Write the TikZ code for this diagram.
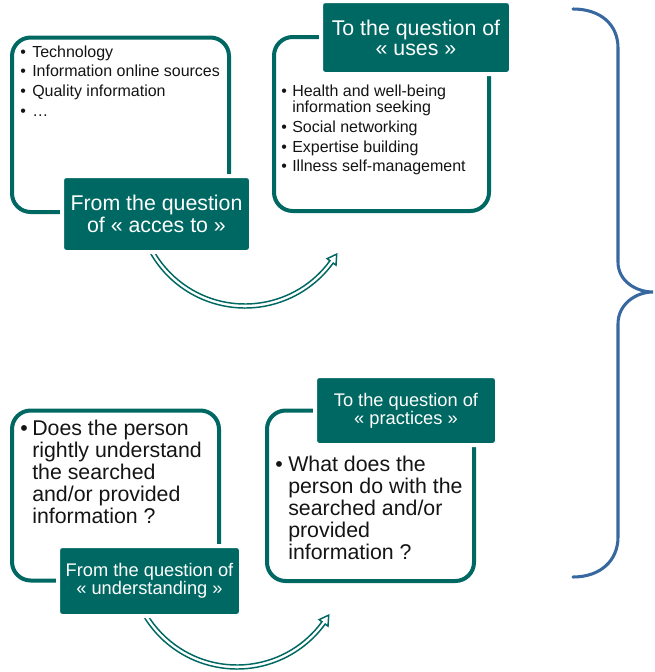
\documentclass[tikz,border=0pt]{standalone}
\usepackage{fontspec}
\setmainfont{Liberation Sans}
\usetikzlibrary{fit}
\definecolor{tealA}{RGB}{0,104,98}
\definecolor{braceblue}{RGB}{56,104,160}
\definecolor{txt}{RGB}{20,20,20}
\newcommand\bb[1]{\makebox[#1][l]{\textbullet}}
\newcommand\hollowarc[1]{%
  \begin{scope}[shift={#1}]
    \draw[arrowline] (152:109) arc[start angle=152, end angle=36, radius=109]
      -- (36:112.5) -- (31:107) -- (36:101.5) -- (36:105)
      arc[start angle=36, end angle=152, radius=105] -- cycle;
  \end{scope}}
\tikzset{
  frame/.style={draw=tealA, line width=3pt, rounded corners=14pt, inner sep=0pt},
  lab/.style={fill=tealA, draw=white, line width=3pt, rounded corners=3pt,
    inner sep=0pt, text=white, align=center},
  bul/.style={anchor=base west, inner sep=0pt, text=txt},
  arrowline/.style={draw=tealA, fill=white, line width=1.1pt, line join=miter},
  bracestyle/.style={draw=braceblue, line width=2.3pt, line cap=round}
}
\begin{document}
\begin{tikzpicture}[x=0.75pt,y=-0.75pt]
\useasboundingbox (0,0) rectangle (655,672);

% frames
\node[frame, fit={(12,37.5) (229,212)}] (f1) {};
\node[frame, fit={(274,37) (489,211)}] (f2) {};
\node[frame, fit={(12,410.5) (219,580.5)}] (f3) {};
\node[frame, fit={(267,410.5) (474,581)}] (f4) {};

% curved arrows
\hollowarc{(245,199)}
\hollowarc{(237,560)}

% labels
\node[lab, minimum width=141.75pt, minimum height=57pt,
  font=\fontsize{16}{16}\selectfont] (l1) at (156.5,214)
  {From the question\\of « acces to »};
\node[lab, minimum width=142.5pt, minimum height=54.75pt,
  font=\fontsize{16}{15}\selectfont] (l2) at (416,37.5)
  {To the question of\\« uses »};
\node[lab, minimum width=137.25pt, minimum height=52.5pt,
  font=\fontsize{13.7}{13.8}\selectfont] (l3) at (149.5,581)
  {From the question of\\« understanding »};
\node[lab, minimum width=136.5pt, minimum height=51.75pt,
  font=\fontsize{13.7}{13.8}\selectfont] (l4) at (406,410.5)
  {To the question of\\« practices »};

% bullet texts
\node[bul, font=\fontsize{12}{12}\selectfont] (t1) at (20,57)
  {\begin{tabular}[t]{@{}l@{}l@{}}
   \bb{9pt} & Technology\\[2.6pt]
   \bb{9pt} & Information online sources\\[2.6pt]
   \bb{9pt} & Quality information\\[2.6pt]
   \bb{9pt} & …
   \end{tabular}};
\node[bul, font=\fontsize{12}{12}\selectfont] (t2) at (281,96)
  {\begin{tabular}[t]{@{}l@{}l@{}}
   \bb{8.25pt} & Health and well-being\\
               & information seeking\\[2.6pt]
   \bb{8.25pt} & Social networking\\[2.6pt]
   \bb{8.25pt} & Expertise building\\[2.6pt]
   \bb{8.25pt} & Illness self-management
   \end{tabular}};
\node[bul, font=\fontsize{16}{16.5}\selectfont] (t3) at (20,435)
  {\begin{tabular}[t]{@{}l@{}l@{}}
   \bb{9pt} & Does the person\\
            & rightly understand\\
            & the searched\\
            & and/or provided\\
            & information ?
   \end{tabular}};
\node[bul, font=\fontsize{16}{16.2}\selectfont] (t4) at (275,471.7)
  {\begin{tabular}[t]{@{}l@{}l@{}}
   \bb{9.75pt} & What does the\\
               & person do with the\\
               & searched and/or\\
               & provided\\
               & information ?
   \end{tabular}};

% brace
\draw[bracestyle] (573,9) .. controls (600,9) and (618,24) .. (618,48)
  -- (618,262) .. controls (618,281) and (636,292) .. (653,292)
  .. controls (636,292) and (618,304) .. (618,324)
  -- (618,537) .. controls (618,561) and (600,577) .. (573,577);
\end{tikzpicture}
\end{document}
